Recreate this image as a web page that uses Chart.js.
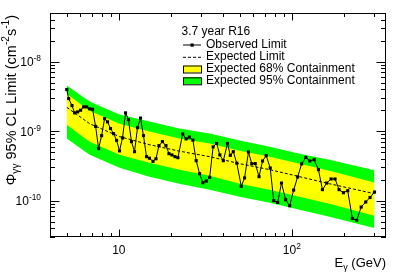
<!DOCTYPE html>
<html>
<head>
<meta charset="utf-8">
<script src="https://cdn.jsdelivr.net/npm/chart.js@4.4.0/dist/chart.umd.min.js"></script>
<style>
  html, body { margin: 0; padding: 0; background: #fff; }
  canvas { display: block; }
</style>
</head>
<body>
<canvas id="chart" width="399" height="273"></canvas>
<script>
// observed limit, one point per searched energy (GeV)
const energies = [
  5.0, 5.13, 5.36, 5.55, 5.78, 6.01, 6.26, 6.51, 6.78, 7.05,
  7.34, 7.64, 7.95, 8.27, 8.60, 8.95, 9.32, 9.70, 10.09, 10.50,
  10.93, 11.37, 11.83, 12.32, 12.82, 13.34, 13.88, 14.45, 15.03, 15.75,
  16.39, 17.05, 17.86, 18.72, 19.48, 20.27, 21.09, 21.95, 23.39, 24.47,
  25.57, 26.79, 27.99, 29.29, 30.60, 31.97, 33.48, 35.08, 36.74, 38.34,
  40.17, 42.46, 44.07, 45.86, 48.04, 51.00, 53.29, 56.12, 58.64, 61.43,
  64.6, 67.67, 71.08, 74.96, 78.52, 82.8, 87.10, 92.1, 97.1, 102.4,
  108.0, 113.9, 120.4, 127.0, 134.5, 142.4, 150.2, 159.1, 168.5, 177.7,
  187.4, 198.5, 210.3, 223.6, 237.0, 251.6, 267.2, 282.9, 300.4
];
const observed = [
  3.96e-9, 2.94e-9, 2.33e-9, 1.83e-9, 1.89e-9, 2.00e-9, 2.23e-9, 2.23e-9, 2.09e-9, 2.06e-9,
  1.17e-9, 5.60e-10, 8.61e-10, 1.51e-9, 1.36e-9, 1.09e-9, 9.20e-10, 7.37e-10, 5.19e-10, 7.98e-10,
  1.83e-9, 1.46e-9, 7.06e-10, 5.07e-10, 1.12e-9, 1.54e-9, 8.61e-10, 4.29e-10, 4.08e-10, 3.67e-10,
  4.01e-10, 6.18e-10, 7.06e-10, 6.18e-10, 4.74e-10, 4.54e-10, 4.29e-10, 4.15e-10, 9.12e-10, 7.73e-10,
  8.20e-10, 7.42e-10, 3.76e-10, 2.44e-10, 1.81e-10, 1.91e-10, 2.17e-10, 5.94e-10, 6.65e-10, 4.55e-10,
  3.76e-10, 6.65e-10, 4.48e-10, 5.07e-10, 3.46e-10, 1.61e-10, 2.12e-10, 5.01e-10, 3.40e-10, 3.42e-10,
  2.21e-10, 3.72e-10, 4.44e-10, 2.95e-10, 1.00e-10, 9.42e-11, 1.79e-10, 1.03e-10, 8.45e-11, 1.42e-10,
  2.19e-10, 3.38e-10, 4.19e-10, 3.72e-10, 3.88e-10, 2.79e-10, 1.44e-10, 1.79e-10, 2.05e-10, 2.05e-10,
  1.44e-10, 1.30e-10, 1.39e-10, 5.54e-11, 5.22e-11, 8.09e-11, 9.57e-11, 1.11e-10, 1.33e-10
];

// expected limit and containment bands, read at a few energies
const bandEnergies = [5.0, 6.78, 10.09, 15.03, 22.4, 33.5, 50.0, 74.5, 111, 165, 300];
const expected = [2.20e-9, 1.28e-9, 8.33e-10, 6.38e-10, 5.15e-10, 4.29e-10, 3.40e-10, 2.79e-10, 2.21e-10, 1.75e-10, 1.26e-10];
const upper95 = [4.53e-9, 2.66e-9, 1.73e-9, 1.37e-9, 1.09e-9, 9.21e-10, 7.30e-10, 5.98e-10, 4.74e-10, 3.88e-10, 2.74e-10];
const upper68 = [3.46e-9, 1.97e-9, 1.28e-9, 9.84e-10, 7.80e-10, 6.61e-10, 5.24e-10, 4.29e-10, 3.40e-10, 2.70e-10, 1.83e-10];
const lower68 = [1.24e-9, 7.06e-10, 4.58e-10, 3.52e-10, 2.79e-10, 2.29e-10, 1.75e-10, 1.44e-10, 1.14e-10, 9.02e-11, 6.05e-11];
const lower95 = [7.80e-10, 4.58e-10, 2.98e-10, 2.21e-10, 1.75e-10, 1.44e-10, 1.14e-10, 9.33e-11, 7.40e-11, 5.86e-11, 4.03e-11];

const legendTitle = "3.7 year R16";
const legendLabels = ["Observed Limit", "Expected Limit", "Expected 68% Containment", "Expected 95% Containment"];

const FONT = '"Liberation Sans", Arial, sans-serif';
const YELLOW = "#ffff00";
const GREEN = "#00ff00";

const pts = (xs, ys) => xs.map((x, i) => ({ x, y: ys[i] }));

// text with ^sup and _sub pieces: parts = [[text, kind], ...]
function richWidth(ctx, parts, size) {
    let w = 0;
    for (const [t, k] of parts) {
        ctx.font = `${k ? size * 0.7 : size}px ${FONT}`;
        w += ctx.measureText(t).width;
    }
    return w;
}
function drawRich(ctx, parts, x, y, size, align) {
    const w = richWidth(ctx, parts, size);
    let cx = align == "right" ? x - w : align == "center" ? x - w / 2 : x;
    ctx.textAlign = "left";
    ctx.textBaseline = "alphabetic";
    for (const [t, k] of parts) {
        const s = k ? size * 0.7 : size;
        ctx.font = `${s}px ${FONT}`;
        const dy = k == "sup" ? -size * 0.42 : k == "sub" ? size * 0.25 : 0;
        ctx.fillText(t, cx, y + dy);
        cx += ctx.measureText(t).width;
    }
}

const rootStyle = {
    id: "rootStyle",
    afterDraw(chart) {
        const { ctx, chartArea: a } = chart;
        const xs = chart.scales.x, ys = chart.scales.y;
        ctx.save();
        ctx.strokeStyle = "#000";
        ctx.fillStyle = "#000";
        ctx.lineWidth = 1;

        // frame and ticks on all four sides
        ctx.strokeRect(a.left + 0.5, a.top + 0.5, a.right - a.left - 1, a.bottom - a.top - 1);
        ctx.beginPath();
        for (let d = 0; d <= 2; d++) {
            for (let m = 1; m <= 9; m++) {
                const v = m * Math.pow(10, d);
                if (v < xs.min || v > xs.max) continue;
                const px = Math.round(xs.getPixelForValue(v)) + 0.5;
                const len = m == 1 ? 7.5 : 4;
                ctx.moveTo(px, a.bottom); ctx.lineTo(px, a.bottom - len);
                ctx.moveTo(px, a.top); ctx.lineTo(px, a.top + len);
            }
        }
        for (let d = -11; d <= -8; d++) {
            for (let m = 1; m <= 9; m++) {
                const v = m * Math.pow(10, d);
                if (v < ys.min || v > ys.max) continue;
                const py = Math.round(ys.getPixelForValue(v)) + 0.5;
                const len = m == 1 ? 9.5 : 5;
                ctx.moveTo(a.left, py); ctx.lineTo(a.left + len, py);
                ctx.moveTo(a.right, py); ctx.lineTo(a.right - len, py);
            }
        }
        ctx.stroke();

        // tick labels
        for (const d of [-8, -9, -10]) {
            const py = ys.getPixelForValue(Math.pow(10, d));
            drawRich(ctx, [["10", ""], [String(d), "sup"]], 41, py + 4.5, 12, "right");
        }
        drawRich(ctx, [["10", ""]], xs.getPixelForValue(10), 254, 12, "center");
        drawRich(ctx, [["10", ""], ["2", "sup"]], xs.getPixelForValue(100), 254, 12, "center");

        // axis titles
        drawRich(ctx, [["E", ""], ["\u03b3", "sub"], [" (GeV)", ""]], a.right, 267, 13, "right");
        ctx.save();
        ctx.translate(15.5, 15);
        ctx.rotate(-Math.PI / 2);
        drawRich(ctx, [["\u03a6", ""], ["\u03b3\u03b3", "sub"], [" 95% CL Limit (cm", ""], ["-2", "sup"], ["s", ""], ["-1", "sup"], [")", ""]], 0, 0, 14.5, "right");
        ctx.restore();

        // legend
        const lx0 = 183, lx1 = 201, tx = 206;
        const rows = [44.5, 56.8, 69, 80.8];
        ctx.font = `12px ${FONT}`;
        ctx.textBaseline = "middle";
        ctx.fillText(legendTitle, 181.5, 32);
        legendLabels.forEach((t, i) => ctx.fillText(t, tx, rows[i]));

        ctx.beginPath();
        ctx.moveTo(lx0, rows[0] + 0.5); ctx.lineTo(lx1, rows[0] + 0.5);
        ctx.stroke();
        ctx.fillRect((lx0 + lx1) / 2 - 1.5, rows[0] - 1, 3.2, 3.2);
        ctx.setLineDash([3, 2]);
        ctx.beginPath();
        ctx.moveTo(lx0, rows[1] + 0.5); ctx.lineTo(lx1, rows[1] + 0.5);
        ctx.stroke();
        ctx.setLineDash([]);
        [[YELLOW, rows[2]], [GREEN, rows[3]]].forEach(([c, r]) => {
            ctx.fillStyle = c;
            ctx.fillRect(lx0, r - 3.5, lx1 - lx0, 7);
            ctx.strokeRect(lx0 + 0.5, r - 3.5 + 0.5, lx1 - lx0, 7);
        });
        ctx.restore();
    }
};

new Chart(document.getElementById("chart"), {
    type: "line",
    data: {
        datasets: [
            {
                label: "Observed Limit",
                data: pts(energies, observed),
                borderColor: "#000",
                borderWidth: 1,
                pointStyle: "rect",
                pointRadius: 2.2,
                pointBorderWidth: 0,
                pointBackgroundColor: "#000",
                fill: false
            },
            {
                label: "Expected Limit",
                data: pts(bandEnergies, expected),
                borderColor: "#000",
                borderWidth: 1,
                borderDash: [3, 2],
                pointRadius: 0,
                fill: false
            },
            {
                label: "Expected 68% Containment",
                data: pts(bandEnergies, upper68),
                borderWidth: 0,
                pointRadius: 0,
                backgroundColor: YELLOW,
                fill: "+1"
            },
            {
                data: pts(bandEnergies, lower68),
                borderWidth: 0,
                pointRadius: 0,
                fill: false
            },
            {
                label: "Expected 95% Containment",
                data: pts(bandEnergies, upper95),
                borderWidth: 0,
                pointRadius: 0,
                backgroundColor: GREEN,
                fill: "+1"
            },
            {
                data: pts(bandEnergies, lower95),
                borderWidth: 0,
                pointRadius: 0,
                fill: false
            }
        ]
    },
    options: {
        responsive: false,
        animation: false,
        devicePixelRatio: 1,
        layout: { padding: { left: 50, top: 13, right: 13, bottom: 36 } },
        elements: { line: { tension: 0 } },
        scales: {
            x: { type: "logarithmic", min: 4, max: 350, display: false },
            y: { type: "logarithmic", min: 3e-11, max: 5e-8, display: false }
        },
        plugins: {
            legend: { display: false },
            tooltip: { enabled: false },
            filler: { drawTime: "beforeDatasetsDraw" }
        }
    },
    plugins: [rootStyle]
});
</script>
</body>
</html>
